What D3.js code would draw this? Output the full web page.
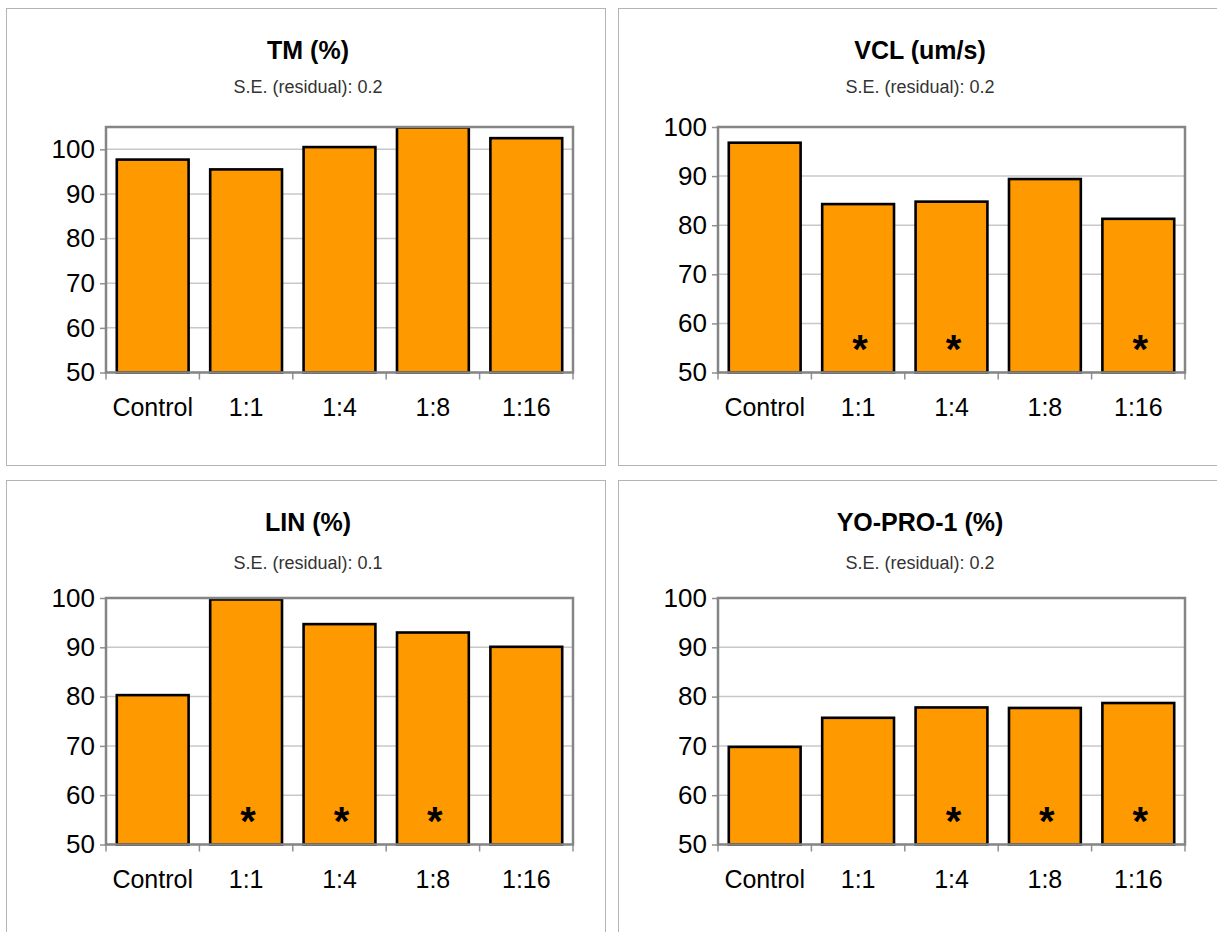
<!DOCTYPE html>
<html>
<head>
<meta charset="utf-8">
<script src="https://cdn.jsdelivr.net/npm/d3@7"></script>
<style>
  body { margin: 0; background: #fff; }
  svg { display: block; font-family: "Liberation Sans", Arial, sans-serif; }
</style>
</head>
<body>
<svg id="chart" width="1217" height="932"></svg>
<script>
// categories and values
const categories = ["Control", "1:1", "1:4", "1:8", "1:16"];
const yTicks = [50, 60, 70, 80, 90, 100];

const tmValues = [97.7, 95.5, 100.5, 104.9, 102.5];
const vclValues = [96.8, 84.3, 84.8, 89.4, 81.3];
const linValues = [80.3, 99.7, 94.7, 93.0, 90.1];
const yoproValues = [69.8, 75.7, 77.8, 77.7, 78.7];

// significance marks (1 = asterisk)
const tmStars = [0, 0, 0, 0, 0];
const vclStars = [0, 1, 1, 0, 1];
const linStars = [0, 1, 1, 1, 0];
const yoproStars = [0, 0, 1, 1, 1];

const titles = ["TM (%)", "VCL (um/s)", "LIN (%)", "YO-PRO-1 (%)"];
const subtitles = ["S.E. (residual): 0.2", "S.E. (residual): 0.2", "S.E. (residual): 0.1", "S.E. (residual): 0.2"];
const yMax = [105, 100, 100, 100];

const svg = d3.select("#chart");

// panel boxes
const panels = [
    { x: 6, y: 8, values: tmValues, stars: tmStars, subY: 79, top: 119 },
    { x: 618, y: 8, values: vclValues, stars: vclStars, subY: 79, top: 119 },
    { x: 6, y: 480, values: linValues, stars: linStars, subY: 83, top: 118 },
    { x: 618, y: 480, values: yoproValues, stars: yoproStars, subY: 83, top: 118 }
];

const pw = 599, ph = 457;
const plotLeft = 100, plotRight = 567, plotBottom = 364.5;

panels.forEach((p, k) => {
    const g = svg.append("g").attr("transform", `translate(${p.x},${p.y})`);

    g.append("rect")
        .attr("x", 0.5).attr("y", 0.5)
        .attr("width", pw).attr("height", ph)
        .attr("fill", "#fff")
        .attr("stroke", "#b4b4b4")
        .attr("stroke-width", 1);

    g.append("text")
        .attr("x", 302).attr("y", 42)
        .attr("dy", "0.35em")
        .attr("text-anchor", "middle")
        .attr("font-size", 25)
        .attr("font-weight", "bold")
        .attr("fill", "#000")
        .text(titles[k]);

    g.append("text")
        .attr("x", 302).attr("y", p.subY)
        .attr("dy", "0.35em")
        .attr("text-anchor", "middle")
        .attr("font-size", 18)
        .attr("fill", "#333")
        .text(subtitles[k]);

    const x = d3.scaleBand()
        .domain(categories)
        .range([plotLeft, plotRight])
        .paddingInner(0.231)
        .paddingOuter(0.1155);

    const y = d3.scaleLinear()
        .domain([50, yMax[k]])
        .range([plotBottom, p.top]);

    // gridlines
    g.append("g")
        .selectAll("line")
        .data(yTicks)
        .join("line")
        .attr("x1", plotLeft).attr("x2", plotRight)
        .attr("y1", d => y(d)).attr("y2", d => y(d))
        .attr("stroke", "#c8c8c8")
        .attr("stroke-width", 1.5);

    // y axis
    const yAxis = d3.axisLeft(y).tickValues(yTicks).tickSize(6).tickPadding(5);
    const ya = g.append("g")
        .attr("transform", `translate(${plotLeft},0)`)
        .call(yAxis);
    ya.select(".domain").remove();
    ya.selectAll(".tick line").attr("stroke", "#909090").attr("stroke-width", 1.5);
    ya.selectAll(".tick text")
        .attr("font-size", 26)
        .attr("font-family", "Liberation Sans, Arial, sans-serif")
        .attr("fill", "#000");

    // x axis: ticks at category boundaries
    const xAxis = d3.axisBottom(x).tickSize(0).tickPadding(0);
    const xa = g.append("g")
        .attr("transform", `translate(0,${plotBottom})`)
        .call(xAxis);
    xa.select(".domain").remove();
    xa.selectAll(".tick text")
        .attr("y", 43)
        .attr("dy", 0)
        .attr("font-size", 25)
        .attr("font-family", "Liberation Sans, Arial, sans-serif")
        .attr("fill", "#000");

    const bounds = categories.map(c => x(c) - x.step() * x.paddingInner() / 2);
    bounds.push(plotRight);
    g.append("g")
        .selectAll("line")
        .data(bounds)
        .join("line")
        .attr("x1", d => d).attr("x2", d => d)
        .attr("y1", plotBottom).attr("y2", plotBottom + 7)
        .attr("stroke", "#909090")
        .attr("stroke-width", 1.5);

    // bars
    g.append("g")
        .selectAll("rect")
        .data(p.values)
        .join("rect")
        .attr("x", (d, i) => x(categories[i]))
        .attr("width", x.bandwidth())
        .attr("y", d => y(d))
        .attr("height", d => y(50) - y(d))
        .attr("fill", "#ff9900")
        .attr("stroke", "#000")
        .attr("stroke-width", 2.6);

    // frame
    g.append("rect")
        .attr("x", plotLeft).attr("y", p.top)
        .attr("width", plotRight - plotLeft)
        .attr("height", plotBottom - p.top)
        .attr("fill", "none")
        .attr("stroke", "#858585")
        .attr("stroke-width", 2.5);

    // asterisks
    g.append("g")
        .selectAll("text")
        .data(p.stars.map((s, i) => ({ s, c: categories[i] })).filter(d => d.s))
        .join("text")
        .attr("x", d => x(d.c) + x.bandwidth() / 2 + 2)
        .attr("y", plotBottom - 10)
        .attr("text-anchor", "middle")
        .attr("font-size", 40)
        .attr("font-weight", "bold")
        .attr("fill", "#000")
        .text("*");
});
</script>
</body>
</html>
